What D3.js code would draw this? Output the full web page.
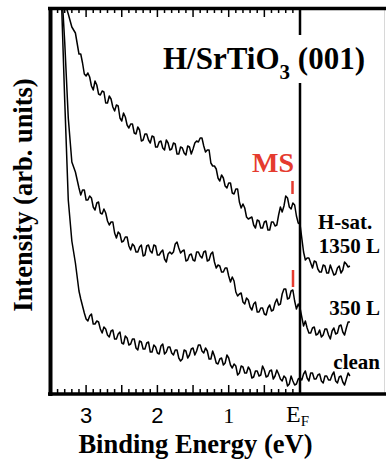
<!DOCTYPE html>
<html><head><meta charset="utf-8">
<script src="https://cdn.jsdelivr.net/npm/d3@7/dist/d3.min.js"></script>
<style>html,body{margin:0;padding:0;background:#fff}svg{display:block}</style>
</head><body>
<script>
// Binding energy grid (eV)
const energy = [3.4,3.35,3.3,3.25,3.2,3.15,
3.1,3.075,3.05,3.025,3.0,2.975,2.95,2.925,2.9,2.875,2.85,2.825,2.8,2.775,2.75,2.725,2.7,2.675,2.65,2.625,2.6,2.575,2.55,2.525,2.5,2.475,2.45,2.425,2.4,2.375,2.35,2.325,2.3,2.275,2.25,2.225,2.2,2.175,2.15,2.125,2.1,2.075,2.05,2.025,2.0,1.975,1.95,1.925,1.9,1.875,1.85,1.825,1.8,1.775,1.75,1.725,1.7,1.675,1.65,1.625,1.6,1.575,1.55,1.525,1.5,1.475,1.45,1.425,1.4,1.375,1.35,1.325,1.3,1.275,1.25,1.225,1.2,1.175,1.15,1.125,1.1,1.075,1.05,1.025,1.0,0.975,0.95,0.925,0.9,0.875,0.85,0.825,0.8,0.775,0.75,0.725,0.7,0.675,0.65,0.625,0.6,0.575,0.55,0.525,0.5,0.475,0.45,0.425,0.4,0.375,0.35,0.325,0.3,0.275,0.25,0.225,0.2,0.175,0.15,0.125,0.1,0.075,0.05,0.025,0.0,-0.025,-0.05,-0.075,-0.1,-0.125,-0.15,-0.175,-0.2,-0.225,-0.25,-0.275,-0.3,-0.325,-0.35,-0.375,-0.4,-0.425,-0.45,-0.475,-0.5,-0.525,-0.55,-0.575,-0.6,-0.625,-0.65,-0.675,-0.7];
// Intensities (arb. units), offset spectra
const hsat1350 = [474,434,392,380,367,361,
340,340,331,320,318,321,317,308,304,313,309,300,299,303,302,291,291,298,295,287,283,289,288,276,273,281,277,269,266,270,270,261,260,267,264,253,254,260,260,254,251,258,257,247,247,252,253,246,244,254,251,244,245,251,250,240,240,247,246,241,239,248,247,240,245,251,253,252,256,256,248,242,244,244,231,228,228,225,216,213,219,216,208,206,211,211,201,200,205,205,192,186,190,186,177,175,176,177,169,166,174,173,166,166,172,173,164,164,172,172,168,169,179,187,182,188,198,196,187,185,191,189,178,171,170,156,142,134,136,136,131,126,133,132,125,122,122,129,128,121,121,129,124,119,120,126,128,121,124,132,130,127,128];
const l350 = [454,414,352,276,232,222,
206,199,204,204,194,194,198,196,187,184,191,192,181,180,185,181,173,169,172,172,161,156,162,160,152,153,157,157,148,144,150,148,142,142,147,149,138,139,148,149,143,141,149,148,139,139,142,144,135,132,140,142,140,142,150,152,146,141,143,144,133,134,139,140,134,133,142,142,138,136,142,143,133,134,140,142,132,126,129,128,122,122,126,126,118,112,117,113,102,98,100,101,92,90,96,94,87,84,90,92,82,82,86,86,80,79,86,89,83,84,91,95,89,90,100,105,105,95,96,103,104,93,85,90,86,77,68,73,66,61,61,66,67,59,60,64,57,59,65,65,59,55,63,66,60,61,68,69,62,59,66,72,72];
const clean = [454,404,294,194,153,131,
103,95,88,81,75,73,78,80,70,70,73,72,65,61,67,65,59,57,63,64,55,55,60,62,51,50,58,56,49,50,55,55,46,44,53,52,45,45,51,52,42,42,49,47,41,40,48,50,40,42,47,47,41,39,44,44,36,33,35,44,43,36,39,45,46,39,43,49,49,43,41,46,43,35,35,43,38,31,30,35,36,29,31,39,36,29,26,30,28,19,21,28,27,21,21,27,24,16,17,23,23,18,19,28,24,17,18,23,24,15,18,24,20,15,13,18,16,8,10,18,13,9,10,15,16,14,20,23,16,13,21,21,15,15,19,20,13,11,18,18,14,14,19,22,13,11,17,18,12,9,15,21,18];
const seriesLabels = ["H-sat.","1350 L","350 L","clean"];
const tickLabels = ["E","1","2","3"];
const tickValues = [0,1,2,3];

const W = 386, H = 461;
const svg = d3.select("body").append("svg").attr("width", W).attr("height", H);
const x = d3.scaleLinear().domain([0, 3.5]).range([300, 50.45]);
const y = d3.scaleLinear().domain([0, 386]).range([394, 8]);
const serif = "'Liberation Serif','Times New Roman',Times,serif";
const sans = "'Liberation Sans',Arial,Helvetica,sans-serif";

svg.append("defs").append("clipPath").attr("id","clip")
  .append("rect").attr("x",52).attr("y",10).attr("width",334).attr("height",383);

// faint right border
svg.append("line").attr("x1",384.5).attr("x2",384.5).attr("y1",8).attr("y2",394)
  .attr("stroke","#d8d8d8").attr("stroke-width",1);

// curves
const line = d3.line().x((d,i)=>x(energy[i])).y(d=>y(d));
const g = svg.append("g").attr("clip-path","url(#clip)");
[hsat1350, l350, clean].forEach(s=>{
  g.append("path").attr("d", line(s)).attr("fill","none")
   .attr("stroke","#000").attr("stroke-width",1.5).attr("stroke-linejoin","round");
});

// ticks (minor 0.1 eV, major 0.5 eV)
const ticks = d3.range(0, 36, 1).map(v=>v/10);
ticks.forEach(v=>{
  const major = Math.abs(v*2 - Math.round(v*2)) < 1e-6;
  const len = major ? 9 : 5;
  svg.append("line").attr("x1",x(v)).attr("x2",x(v)).attr("y1",394).attr("y2",394-len)
    .attr("stroke","#000").attr("stroke-width",1.5);
  svg.append("line").attr("x1",x(v)).attr("x2",x(v)).attr("y1",8).attr("y2",8+len)
    .attr("stroke","#000").attr("stroke-width",1.5);
});

// frame
svg.append("line").attr("x1",48).attr("x2",386).attr("y1",8.5).attr("y2",8.5).attr("stroke","#000").attr("stroke-width",3.5);
svg.append("line").attr("x1",48).attr("x2",386).attr("y1",394).attr("y2",394).attr("stroke","#000").attr("stroke-width",3.5);
svg.append("line").attr("x1",50.5).attr("x2",50.5).attr("y1",7).attr("y2",396).attr("stroke","#000").attr("stroke-width",4);

// E_F line with gap for title
svg.append("line").attr("x1",x(0)).attr("x2",x(0)).attr("y1",8).attr("y2",35).attr("stroke","#000").attr("stroke-width",2.5);
svg.append("line").attr("x1",x(0)).attr("x2",x(0)).attr("y1",83).attr("y2",394).attr("stroke","#000").attr("stroke-width",2.5);

// tick labels
tickValues.forEach((v,i)=>{
  const lab = tickLabels[i];
  if (v === 0) {
    const t = svg.append("text").attr("x", x(v)-14).attr("y",422)
      .attr("font-family",serif).attr("font-size",24).attr("fill","#000");
    t.append("tspan").text(lab);
    t.append("tspan").attr("font-size",15).attr("dy",4).text("F");
  } else {
    svg.append("text").attr("x",x(v)).attr("y",423).attr("text-anchor","middle")
      .attr("font-family", v===1 ? serif : sans).attr("font-size",22).attr("fill","#000").text(lab);
  }
});

// axis titles
svg.append("text").attr("x",195.5).attr("y",453).attr("text-anchor","middle")
  .attr("font-family",serif).attr("font-weight","bold").attr("font-size",26.5).text("Binding Energy (eV)");
svg.append("text").attr("transform","translate(32,195) rotate(-90)").attr("text-anchor","middle")
  .attr("font-family",serif).attr("font-weight","bold").attr("font-size",26.5).text("Intensity (arb. units)");

// title
const tt = svg.append("text").attr("x",163).attr("y",69).attr("font-family",serif)
  .attr("font-weight","bold").attr("font-size",31).attr("fill","#000");
tt.append("tspan").text("H/SrTiO");
tt.append("tspan").attr("font-size",21).attr("dy",10).text("3");
tt.append("tspan").attr("dy",-10).text(" (001)");

// MS annotation
svg.append("text").attr("x",252).attr("y",172).attr("font-family",serif).attr("font-weight","bold")
  .attr("font-size",28).attr("fill","#e53b2f").text("MS");
svg.append("line").attr("x1",292.5).attr("x2",292.5).attr("y1",181).attr("y2",194).attr("stroke","#e53b2f").attr("stroke-width",2.5);
svg.append("line").attr("x1",293).attr("x2",293).attr("y1",270).attr("y2",287).attr("stroke","#e53b2f").attr("stroke-width",2.5);

// series labels
const lab = (txt, xx, yy, anchor) => svg.append("text").attr("x",xx).attr("y",yy)
  .attr("text-anchor",anchor).attr("font-family",serif).attr("font-weight","bold")
  .attr("font-size",21).attr("fill","#000").text(txt);
lab(seriesLabels[0], 318, 229, "start");
lab(seriesLabels[1], 380, 253, "end");
lab(seriesLabels[2], 380, 315, "end");
lab(seriesLabels[3], 380, 369, "end");
</script>
</body></html>
